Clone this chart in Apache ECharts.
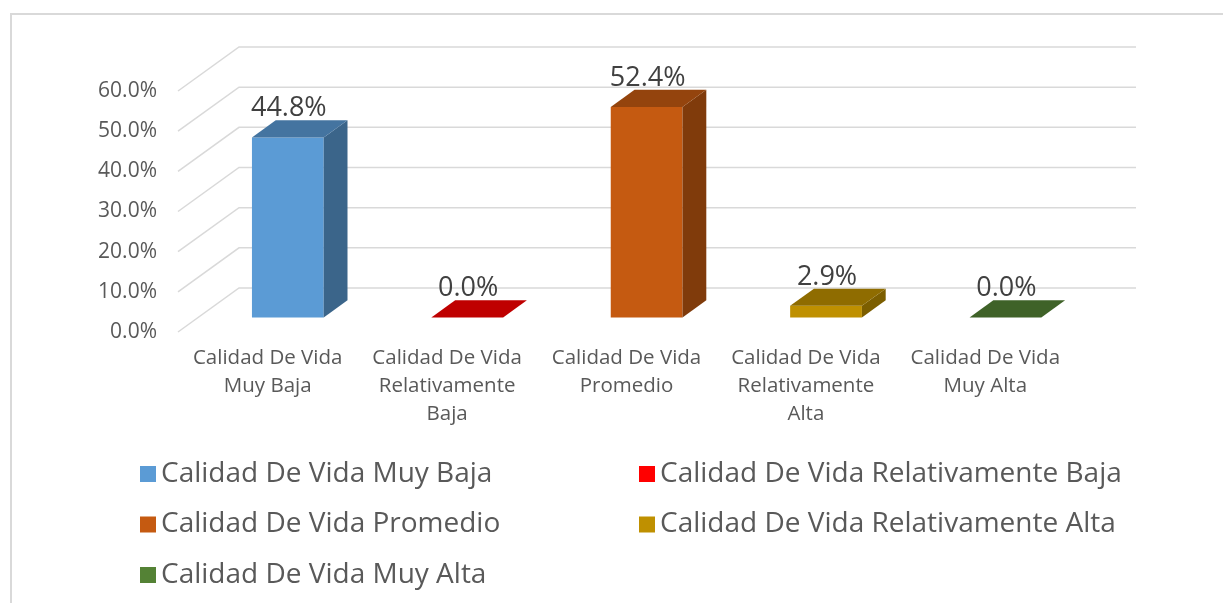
<!DOCTYPE html>
<html>
<head>
<meta charset="utf-8">
<script src="https://cdn.jsdelivr.net/npm/echarts@6/dist/echarts.min.js"></script>
<style>
  html, body { margin: 0; padding: 0; background: #fff; }
  #main { width: 1223px; height: 603px; }
</style>
</head>
<body>
<div id="main"></div>
<script>
var categories = [
    'Calidad De Vida Muy Baja',
    'Calidad De Vida Relativamente Baja',
    'Calidad De Vida Promedio',
    'Calidad De Vida Relativamente Alta',
    'Calidad De Vida Muy Alta'
];
var values = [44.8, 0.0, 52.4, 2.9, 0.0];
var yTicks = [0, 10, 20, 30, 40, 50, 60];
var colors = ['#5B9BD5', '#FF0000', '#C55A11', '#BF9000', '#548235'];

// oblique 3d look: wall depth and bar placement inside it
var DEPTH = [61, -44];
var BAR_FRONT = 0.33;
var BAR_DEPTH = 0.39;

function shade(hex, k) {
    var n = parseInt(hex.slice(1), 16);
    var r = Math.round(((n >> 16) & 255) * k);
    var g = Math.round(((n >> 8) & 255) * k);
    var b = Math.round((n & 255) * k);
    return 'rgb(' + r + ',' + g + ',' + b + ')';
}

function renderWall(params, api) {
    var cs = params.coordSys;
    var y = api.coord([0, api.value(1)])[1];
    var x0 = cs.x;
    var x1 = cs.x + cs.width;
    return {
        type: 'polyline',
        silent: true,
        shape: {
            points: [[x0, y], [x0 + DEPTH[0], y + DEPTH[1]], [x1 + DEPTH[0], y + DEPTH[1]]]
        },
        style: { stroke: '#D9D9D9', lineWidth: 1.5, fill: null }
    };
}

function makeBarRenderer(color) {
    return function(params, api) {
        var cat = api.value(0);
        var val = api.value(1);
        var base = api.coord([cat, 0]);
        var top = api.coord([cat, val]);
        var band = api.size([1, 0])[0];
        var w = band * 0.4;
        var ox = DEPTH[0] * BAR_FRONT, oy = DEPTH[1] * BAR_FRONT;
        var dx = DEPTH[0] * BAR_DEPTH, dy = DEPTH[1] * BAR_DEPTH;
        var xl = base[0] + ox - w / 2;
        var xr = base[0] + ox + w / 2;
        var yb = base[1] + oy;
        var yt = top[1] + oy;
        var children = [];
        if (yb - yt > 0.5) {
            children.push({
                type: 'polygon',
                shape: { points: [[xl, yt], [xr, yt], [xr, yb], [xl, yb]] },
                style: { fill: color }
            });
            children.push({
                type: 'polygon',
                shape: { points: [[xr, yt], [xr + dx, yt + dy], [xr + dx, yb + dy], [xr, yb]] },
                style: { fill: shade(color, 0.65) }
            });
        }
        children.push({
            type: 'polygon',
            shape: { points: [[xl, yt], [xr, yt], [xr + dx, yt + dy], [xl + dx, yt + dy]] },
            style: { fill: shade(color, 0.75) }
        });
        children.push({
            type: 'text',
            style: {
                text: val.toFixed(1) + '%',
                x: (xl + xr) / 2 + 1,
                y: yt - 29,
                align: 'center',
                verticalAlign: 'middle',
                fill: '#404040',
                font: '27px "Open Sans"'
            }
        });
        return { type: 'group', children: children };
    };
}

var dom = document.getElementById('main');
var myChart = echarts.init(dom);
var option = null;

var series = [{
    type: 'custom',
    name: 'wall',
    renderItem: renderWall,
    silent: true,
    z: 1,
    data: yTicks.map(function(v) { return [0, v]; })
}];
for (var i = 0; i < categories.length; i++) {
    series.push({
        type: 'custom',
        name: categories[i],
        renderItem: makeBarRenderer(colors[i]),
        itemStyle: { color: colors[i] },
        z: 2,
        data: [[i, values[i]]]
    });
}

var legendText = { color: '#595959', fontSize: 28, lineHeight: 30 };

option = {
    backgroundColor: '#fff',
    animation: false,
    textStyle: { fontFamily: 'Open Sans' },
    grid: {
        left: 178,
        right: 148,
        top: 91,
        bottom: 271
    },
    legend: [{
        data: [categories[0], categories[2], categories[4]],
        orient: 'vertical',
        left: 135,
        top: 454,
        icon: 'rect',
        itemWidth: 16,
        itemHeight: 16,
        itemGap: 20.5,
        selectedMode: false,
        textStyle: legendText
    }, {
        data: [categories[1], categories[3]],
        orient: 'vertical',
        left: 634,
        top: 454,
        icon: 'rect',
        itemWidth: 16,
        itemHeight: 16,
        itemGap: 20.5,
        selectedMode: false,
        textStyle: legendText
    }],
    xAxis: {
        type: 'category',
        data: categories,
        axisLine: { show: false },
        axisTick: { show: false },
        splitLine: { show: false },
        axisLabel: {
            interval: 0,
            color: '#595959',
            fontSize: 20.5,
            lineHeight: 28,
            margin: 12,
            formatter: function(v) {
                return v.replace('Vida ', 'Vida\n').replace('Relativamente ', 'Relativamente\n');
            }
        }
    },
    yAxis: {
        type: 'value',
        min: 0,
        max: 60,
        interval: 10,
        axisLine: { show: false },
        axisTick: { show: false },
        splitLine: { show: false },
        axisLabel: {
            color: '#595959',
            fontSize: 21,
            margin: 21,
            formatter: function(v) { return v.toFixed(1) + '%'; }
        }
    },
    graphic: [{
        type: 'polyline',
        silent: true,
        shape: { points: [[11, 603], [11, 14], [1223, 14]] },
        style: { stroke: '#D9D9D9', lineWidth: 2, fill: null }
    }],
    series: series
};

if (option && typeof option === 'object') {
    myChart.setOption(option, true);
}
window.onresize = function() {
    myChart.resize();
};
</script>
</body>
</html>
